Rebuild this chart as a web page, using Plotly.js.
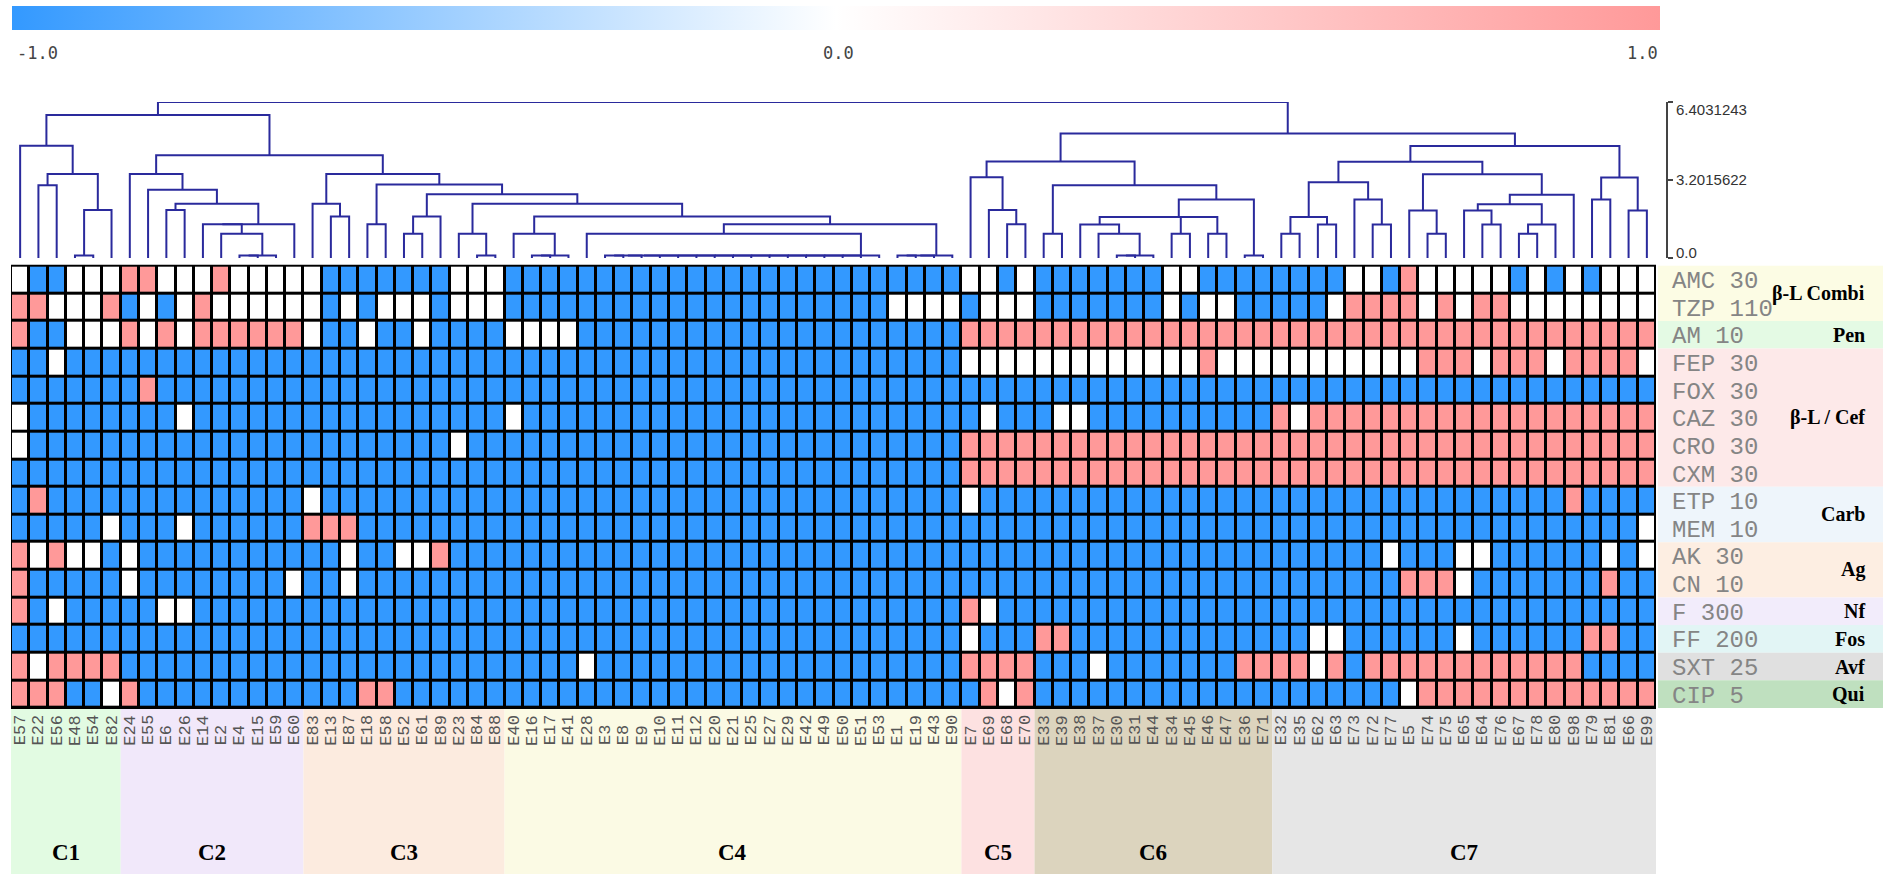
<!DOCTYPE html>
<html>
<head>
<meta charset="utf-8">
<script src="https://cdn.plot.ly/plotly-3.0.1.min.js"></script>
<style>
  html, body { margin: 0; padding: 0; background: #ffffff; }
  #chart { width: 1896px; height: 874px; }
</style>
</head>
<body>
<div id="chart"></div>
<script>
// Isolates in dendrogram (column) order
const isolates = [
  'E57','E22','E56','E48','E54','E82',
  'E24','E55','E6','E26','E14','E2','E4','E15','E59','E60',
  'E83','E13','E87','E18','E58','E52','E61','E89','E23','E84','E88',
  'E40','E16','E17','E41','E28','E3','E8','E9','E10','E11','E12','E20','E21','E25','E27','E29','E42','E49','E50','E51','E53','E1','E19','E43','E90',
  'E7','E69','E68','E70',
  'E33','E39','E38','E37','E30','E31','E44','E34','E45','E46','E47','E36','E71',
  'E32','E35','E62','E63','E73','E72','E77','E5','E74','E75','E65','E64','E76','E67','E78','E80','E98','E79','E81','E66','E99'
];

// Antibiotic discs (rows, top to bottom)
const antibiotics = ['AMC 30','TZP 110','AM 10','FEP 30','FOX 30','CAZ 30','CRO 30','CXM 30',
                     'ETP 10','MEM 10','AK 30','CN 10','F 300','FF 200','SXT 25','CIP 5'];

// Profiles: -1 = susceptible, 0 = intermediate, 1 = resistant (one value per isolate)
const AMC = [
  0,-1,-1,0,0,0,
  1,1,0,0,0,1,0,0,0,0,
  0,-1,-1,-1,-1,-1,-1,-1,0,0,0,
  -1,-1,-1,-1,-1,-1,-1,-1,-1,-1,-1,-1,-1,-1,-1,-1,-1,-1,-1,-1,-1,-1,-1,-1,-1,
  0,0,-1,0,
  -1,-1,-1,-1,-1,-1,-1,0,0,-1,-1,-1,-1,
  -1,-1,-1,-1,0,0,-1,1,0,0,0,0,0,-1,0,-1,0,-1,0,0,0
];
const TZP = [
  1,1,0,0,0,1,
  -1,0,-1,0,1,0,0,0,0,0,
  0,-1,0,-1,0,0,0,-1,0,0,0,
  -1,-1,-1,-1,-1,-1,-1,-1,-1,-1,-1,-1,-1,-1,-1,-1,-1,-1,-1,-1,-1,0,0,0,0,
  -1,0,0,0,
  -1,-1,-1,-1,-1,-1,-1,0,-1,0,0,-1,-1,
  -1,-1,-1,0,1,1,1,1,0,1,0,1,1,0,0,0,0,0,0,0,0
];
const AM = [
  1,-1,-1,0,0,0,
  1,0,1,0,1,1,1,1,1,1,
  0,-1,-1,0,-1,-1,0,-1,-1,-1,-1,
  0,0,0,0,-1,-1,-1,-1,-1,-1,-1,-1,-1,-1,-1,-1,-1,-1,-1,-1,-1,-1,-1,-1,-1,
  1,1,1,1,
  1,1,1,1,1,1,1,1,1,1,1,1,1,
  1,1,1,1,1,1,1,1,1,1,1,1,1,1,1,1,1,1,1,1,1
];
const FEP = [
  -1,-1,0,-1,-1,-1,
  -1,-1,-1,-1,-1,-1,-1,-1,-1,-1,
  -1,-1,-1,-1,-1,-1,-1,-1,-1,-1,-1,
  -1,-1,-1,-1,-1,-1,-1,-1,-1,-1,-1,-1,-1,-1,-1,-1,-1,-1,-1,-1,-1,-1,-1,-1,-1,
  0,0,0,0,
  0,0,0,0,0,0,0,0,0,1,0,0,0,
  0,0,0,0,0,0,0,0,1,1,1,0,1,1,1,0,1,1,1,1,0
];
const FOX = [
  -1,-1,-1,-1,-1,-1,
  -1,1,-1,-1,-1,-1,-1,-1,-1,-1,
  -1,-1,-1,-1,-1,-1,-1,-1,-1,-1,-1,
  -1,-1,-1,-1,-1,-1,-1,-1,-1,-1,-1,-1,-1,-1,-1,-1,-1,-1,-1,-1,-1,-1,-1,-1,-1,
  -1,-1,-1,-1,
  -1,-1,-1,-1,-1,-1,-1,-1,-1,-1,-1,-1,-1,
  -1,-1,-1,-1,-1,-1,-1,-1,-1,-1,-1,-1,-1,-1,-1,-1,-1,-1,-1,-1,-1
];
const CAZ = [
  0,-1,-1,-1,-1,-1,
  -1,-1,-1,0,-1,-1,-1,-1,-1,-1,
  -1,-1,-1,-1,-1,-1,-1,-1,-1,-1,-1,
  0,-1,-1,-1,-1,-1,-1,-1,-1,-1,-1,-1,-1,-1,-1,-1,-1,-1,-1,-1,-1,-1,-1,-1,-1,
  -1,0,-1,-1,
  -1,0,0,-1,-1,-1,-1,-1,-1,-1,-1,-1,-1,
  1,0,1,1,1,1,1,1,1,1,1,1,1,1,1,1,1,1,1,1,1
];
const CRO = [
  0,-1,-1,-1,-1,-1,
  -1,-1,-1,-1,-1,-1,-1,-1,-1,-1,
  -1,-1,-1,-1,-1,-1,-1,-1,0,-1,-1,
  -1,-1,-1,-1,-1,-1,-1,-1,-1,-1,-1,-1,-1,-1,-1,-1,-1,-1,-1,-1,-1,-1,-1,-1,-1,
  1,1,1,1,
  1,1,1,1,1,1,1,1,1,1,1,1,1,
  1,1,1,1,1,1,1,1,1,1,1,1,1,1,1,1,1,1,1,1,1
];
const CXM = [
  -1,-1,-1,-1,-1,-1,
  -1,-1,-1,-1,-1,-1,-1,-1,-1,-1,
  -1,-1,-1,-1,-1,-1,-1,-1,-1,-1,-1,
  -1,-1,-1,-1,-1,-1,-1,-1,-1,-1,-1,-1,-1,-1,-1,-1,-1,-1,-1,-1,-1,-1,-1,-1,-1,
  1,1,1,1,
  1,1,1,1,1,1,1,1,1,1,1,1,1,
  1,1,1,1,1,1,1,1,1,1,1,1,1,1,1,1,1,1,1,1,1
];
const ETP = [
  -1,1,-1,-1,-1,-1,
  -1,-1,-1,-1,-1,-1,-1,-1,-1,-1,
  0,-1,-1,-1,-1,-1,-1,-1,-1,-1,-1,
  -1,-1,-1,-1,-1,-1,-1,-1,-1,-1,-1,-1,-1,-1,-1,-1,-1,-1,-1,-1,-1,-1,-1,-1,-1,
  0,-1,-1,-1,
  -1,-1,-1,-1,-1,-1,-1,-1,-1,-1,-1,-1,-1,
  -1,-1,-1,-1,-1,-1,-1,-1,-1,-1,-1,-1,-1,-1,-1,-1,1,-1,-1,-1,-1
];
const MEM = [
  -1,-1,-1,-1,-1,0,
  -1,-1,-1,0,-1,-1,-1,-1,-1,-1,
  1,1,1,-1,-1,-1,-1,-1,-1,-1,-1,
  -1,-1,-1,-1,-1,-1,-1,-1,-1,-1,-1,-1,-1,-1,-1,-1,-1,-1,-1,-1,-1,-1,-1,-1,-1,
  -1,-1,-1,-1,
  -1,-1,-1,-1,-1,-1,-1,-1,-1,-1,-1,-1,-1,
  -1,-1,-1,-1,-1,-1,-1,-1,-1,-1,-1,-1,-1,-1,-1,-1,-1,-1,-1,-1,0
];
const AK = [
  1,0,1,0,0,-1,
  0,-1,-1,-1,-1,-1,-1,-1,-1,-1,
  -1,-1,0,-1,-1,0,0,1,-1,-1,-1,
  -1,-1,-1,-1,-1,-1,-1,-1,-1,-1,-1,-1,-1,-1,-1,-1,-1,-1,-1,-1,-1,-1,-1,-1,-1,
  -1,-1,-1,-1,
  -1,-1,-1,-1,-1,-1,-1,-1,-1,-1,-1,-1,-1,
  -1,-1,-1,-1,-1,-1,0,-1,-1,-1,0,0,-1,-1,-1,-1,-1,-1,0,-1,0
];
const CN = [
  1,-1,-1,-1,-1,-1,
  0,-1,-1,-1,-1,-1,-1,-1,-1,0,
  -1,-1,0,-1,-1,-1,-1,-1,-1,-1,-1,
  -1,-1,-1,-1,-1,-1,-1,-1,-1,-1,-1,-1,-1,-1,-1,-1,-1,-1,-1,-1,-1,-1,-1,-1,-1,
  -1,-1,-1,-1,
  -1,-1,-1,-1,-1,-1,-1,-1,-1,-1,-1,-1,-1,
  -1,-1,-1,-1,-1,-1,-1,1,1,1,0,-1,-1,-1,-1,-1,-1,-1,1,-1,-1
];
const F = [
  1,-1,0,-1,-1,-1,
  -1,-1,0,0,-1,-1,-1,-1,-1,-1,
  -1,-1,-1,-1,-1,-1,-1,-1,-1,-1,-1,
  -1,-1,-1,-1,-1,-1,-1,-1,-1,-1,-1,-1,-1,-1,-1,-1,-1,-1,-1,-1,-1,-1,-1,-1,-1,
  1,0,-1,-1,
  -1,-1,-1,-1,-1,-1,-1,-1,-1,-1,-1,-1,-1,
  -1,-1,-1,-1,-1,-1,-1,-1,-1,-1,-1,-1,-1,-1,-1,-1,-1,-1,-1,-1,-1
];
const FF = [
  -1,-1,-1,-1,-1,-1,
  -1,-1,-1,-1,-1,-1,-1,-1,-1,-1,
  -1,-1,-1,-1,-1,-1,-1,-1,-1,-1,-1,
  -1,-1,-1,-1,-1,-1,-1,-1,-1,-1,-1,-1,-1,-1,-1,-1,-1,-1,-1,-1,-1,-1,-1,-1,-1,
  0,-1,-1,-1,
  1,1,-1,-1,-1,-1,-1,-1,-1,-1,-1,-1,-1,
  -1,-1,0,0,-1,-1,-1,-1,-1,-1,0,-1,-1,-1,-1,-1,-1,1,1,-1,-1
];
const SXT = [
  1,0,1,1,1,1,
  -1,-1,-1,-1,-1,-1,-1,-1,-1,-1,
  -1,-1,-1,-1,-1,-1,-1,-1,-1,-1,-1,
  -1,-1,-1,-1,0,-1,-1,-1,-1,-1,-1,-1,-1,-1,-1,-1,-1,-1,-1,-1,-1,-1,-1,-1,-1,
  1,1,1,1,
  -1,-1,-1,0,-1,-1,-1,-1,-1,-1,-1,1,1,
  1,1,0,1,-1,1,1,1,1,1,1,1,1,1,1,1,1,-1,-1,-1,-1
];
const CIP = [
  1,1,1,-1,-1,0,
  1,-1,-1,-1,-1,-1,-1,-1,-1,-1,
  -1,-1,-1,1,1,-1,-1,-1,-1,-1,-1,
  -1,-1,-1,-1,-1,-1,-1,-1,-1,-1,-1,-1,-1,-1,-1,-1,-1,-1,-1,-1,-1,-1,-1,-1,-1,
  -1,1,0,1,
  -1,-1,-1,-1,-1,-1,-1,-1,-1,-1,-1,-1,-1,
  -1,-1,-1,-1,-1,-1,-1,0,1,1,1,1,1,1,1,1,1,1,1,1,1
];
const profiles = [AMC, TZP, AM, FEP, FOX, CAZ, CRO, CXM, ETP, MEM, AK, CN, F, FF, SXT, CIP];
profiles.forEach((row, i) => {
  if (row.length !== isolates.length) throw new Error(antibiotics[i] + ' has ' + row.length + ' values');
});

// Antibiotic classes (row spans)
const classNames  = ['β-L Combi', 'Pen', 'β-L / Cef', 'Carb', 'Ag', 'Nf', 'Fos', 'Avf', 'Qui'];
const classFirst  = [0, 2, 3, 8, 10, 12, 13, 14, 15];
const classLast   = [1, 2, 7, 9, 11, 12, 13, 14, 15];
const classColors = ['#fcfce4', '#e4fae4', '#fde9e9', '#eef5fb', '#fdeee2', '#f2ecfb', '#e2f5f5', '#e0e0e0', '#bfe0bf'];

// Isolate clusters (column spans)
const clusterNames  = ['C1', 'C2', 'C3', 'C4', 'C5', 'C6', 'C7'];
const clusterSizes  = [6, 10, 11, 25, 4, 13, 21];
const clusterColors = ['#e2fbe2', '#f1e8fa', '#fcebdf', '#fbfae4', '#fde1e1', '#dcd4be', '#e6e6e6'];

// Hierarchical clustering tree; the number after each ")" is the merge height.
// A node with more than two members is a run of successive merges at that height.
const treeC1  = '(E57,((E22,E56)2.99,((E48,E54)0.1,E82)1.97)3.45)4.61';
const treeC2  = '(E24,(E55,((E6,E26)1.97,(E14,(E2,(E4,E15,E59)0.1)1.0,E60)1.39)2.23)2.80)3.45';
const treeC34 = '((E83,(E13,E87)1.70)2.23,((E18,E58)1.39,(((E52,E61)1.0,E89)1.70,((E23,(E84,E88)0.1)1.0,' +
                '((E40,(E16,E17,E41)0.1)1.0,((E28,(E3,E8,E9,E10,E11,E12,E20,E21,E25,E27,E29,E42,E49,E50,E51,E53)0.1)1.0,' +
                '(E1,E19,E43,E90)0.1)1.39)1.70)2.23)2.62)3.02)3.45';
const treeC5  = '(E7,(E69,(E68,E70)1.39)1.97)3.31';
const treeC6  = '((E33,E39)1.0,(((E38,(E37,(E30,E31,E44)0.1)1.0)1.37,(E34,E45)1.0,(E46,E47)1.0)1.68,(E36,E71)0.1)2.40)2.99';
const treeC7  = '(((((E32,E35)1.0,(E62,E63)1.37)1.68,(E73,(E72,E77)1.37)2.40)3.11,((E5,(E74,E75)1.0)1.95,' +
                '(((E65,(E64,E76)1.37)1.95,((E67,E78)1.0,E80)1.37)2.21,E98)2.60)3.44)3.95,((E79,E81)2.40,(E66,E99)1.95)3.30)4.60';
const tree = '((' + treeC1 + ',(' + treeC2 + ',' + treeC34 + ')4.22)5.87,((' + treeC5 + ',' + treeC6 + ')3.96,' + treeC7 + ')5.11)6.4031243';
const treeMax = 6.4031243;
const treeTickVals = [0, 3.2015622, 6.4031243];
const treeTickText = ['0.0', '3.2015622', '6.4031243'];

function parseTree(s) {
  let i = 0;
  function node() {
    if (s[i] === '(') {
      i++;
      const kids = [node()];
      while (s[i] === ',') { i++; kids.push(node()); }
      if (s[i] !== ')') throw new Error('tree syntax at ' + i);
      i++;
      const j = i;
      while (i < s.length && /[0-9.]/.test(s[i])) i++;
      return { kids: kids, h: parseFloat(s.slice(j, i)) };
    }
    const j = i;
    while (i < s.length && /[A-Za-z0-9]/.test(s[i])) i++;
    return { name: s.slice(j, i) };
  }
  const root = node();
  if (i !== s.length) throw new Error('tree trailing text');
  return root;
}

// Walk the tree, emitting the elbow segments of each merge
function layoutTree(n, xs, ys) {
  if (n.name) {
    const idx = isolates.indexOf(n.name);
    if (idx < 0) throw new Error('unknown leaf ' + n.name);
    return { x: idx, h: 0 };
  }
  const kids = n.kids.map(k => layoutTree(k, xs, ys));
  let cur = kids[0];
  for (let k = 1; k < kids.length; k++) {
    const c = kids[k];
    xs.push(cur.x, cur.x, c.x, c.x, null);
    ys.push(cur.h, n.h, n.h, c.h, null);
    cur = { x: (cur.x + c.x) / 2, h: n.h };
  }
  return cur;
}
const dx = [], dy = [];
layoutTree(parseTree(tree), dx, dy);

// Page geometry (pixels)
const W = 1896, H = 874;
const px = v => v / W;
const py = v => 1 - v / H;

const colIndex = isolates.map((_, i) => i);

const heat = {
  type: 'heatmap',
  x: colIndex,
  y: antibiotics,
  z: profiles,
  zmin: -1, zmax: 1,
  colorscale: [[0, '#3399ff'], [0.5, '#ffffff'], [1, '#ff9999']],
  xgap: 3, ygap: 3,
  hoverinfo: 'skip',
  colorbar: {
    orientation: 'h',
    x: px(836), xanchor: 'center',
    y: py(6), yanchor: 'top',
    len: 1648 / W, lenmode: 'fraction',
    thickness: 24, thicknessmode: 'pixels',
    outlinewidth: 0, xpad: 0, ypad: 0,
    showticklabels: false, ticks: ''
  }
};

const dendro = {
  type: 'scatter',
  mode: 'lines',
  x: dx, y: dy,
  xaxis: 'x', yaxis: 'y2',
  line: { color: '#2a2a9c', width: 2 },
  hoverinfo: 'skip',
  cliponaxis: false,
  showlegend: false
};

const shapes = [];
const annotations = [];

// black grid behind the cells
shapes.push({
  type: 'rect', xref: 'x', yref: 'y', layer: 'below',
  x0: -0.5, x1: isolates.length - 0.5, y0: -0.5, y1: antibiotics.length - 0.5,
  fillcolor: '#000000', line: { color: '#000000', width: 2 }
});

// class bands and labels on the right
classNames.forEach((name, k) => {
  shapes.push({
    type: 'rect', xref: 'paper', yref: 'y', layer: 'below',
    x0: px(1658), x1: px(1883), y0: classFirst[k] - 0.5, y1: classLast[k] + 0.5,
    fillcolor: classColors[k], line: { width: 0 }
  });
  annotations.push({
    text: '<b>' + name + '</b>', xref: 'paper', yref: 'y',
    x: px(1867), y: (classFirst[k] + classLast[k]) / 2,
    xanchor: 'right', yanchor: 'middle', showarrow: false,
    font: { family: 'Liberation Serif, DejaVu Serif, serif', size: 20, color: '#000000' }
  });
});

// antibiotic labels
antibiotics.forEach(name => {
  annotations.push({
    text: name, xref: 'paper', yref: 'y', x: px(1670), y: name,
    xanchor: 'left', yanchor: 'middle', yshift: -2, showarrow: false,
    font: { family: 'Liberation Mono, DejaVu Sans Mono, monospace', size: 24, color: '#858585' }
  });
});

// cluster bands and labels at the bottom
let start = 0;
clusterNames.forEach((name, k) => {
  const end = start + clusterSizes[k] - 1;
  shapes.push({
    type: 'rect', xref: 'x', yref: 'paper', layer: 'below',
    x0: start - 0.5, x1: end + 0.5, y0: 0, y1: py(709),
    fillcolor: clusterColors[k], line: { width: 0 }
  });
  annotations.push({
    text: '<b>' + name + '</b>', xref: 'x', yref: 'paper',
    x: (start + end) / 2, y: py(852), xanchor: 'center', yanchor: 'middle', showarrow: false,
    font: { family: 'Liberation Serif, DejaVu Serif, serif', size: 23, color: '#000000' }
  });
  start = end + 1;
});

// isolate labels, read bottom-to-top and aligned at their first character
const labelLen = Math.max(...isolates.map(s => s.length));
isolates.forEach((name, i) => {
  annotations.push({
    text: name + '\u00a0'.repeat(labelLen - name.length), xref: 'x', yref: 'paper', x: i, y: py(730),
    xanchor: 'center', yanchor: 'middle', textangle: -90, showarrow: false,
    font: { family: 'Liberation Mono, DejaVu Sans Mono, monospace', size: 17, color: '#555555' }
  });
});

// colour scale labels
const scaleTicks = [-1, 0, 1];
const scaleTickX = [px(15), px(838), px(1660)];
const scaleAnchor = ['left', 'center', 'right'];
scaleTicks.forEach((v, k) => {
  annotations.push({
    text: v.toFixed(1), xref: 'paper', yref: 'paper', x: scaleTickX[k], y: py(53),
    xanchor: scaleAnchor[k], yanchor: 'middle', showarrow: false,
    font: { family: 'DejaVu Sans Mono, monospace', size: 17, color: '#444444' }
  });
});

// dendrogram height labels, kept inside the bracket ends
const treeLabelShift = [5, 0, -8];
treeTickVals.forEach((v, k) => {
  annotations.push({
    text: treeTickText[k], xref: 'paper', yref: 'y2', x: px(1674), y: v,
    xanchor: 'left', yanchor: 'middle', yshift: treeLabelShift[k], showarrow: false,
    font: { family: 'Liberation Sans, Arial, sans-serif', size: 15, color: '#333333' }
  });
});

const layout = {
  width: W, height: H,
  margin: { l: 0, r: 0, t: 0, b: 0, pad: 0 },
  paper_bgcolor: '#ffffff',
  plot_bgcolor: '#ffffff',
  showlegend: false,
  xaxis: {
    domain: [px(11), px(1656)], range: [-0.5, isolates.length - 0.5],
    showticklabels: false, showgrid: false, zeroline: false, ticks: '', fixedrange: true
  },
  yaxis: {
    domain: [py(709), py(262)], type: 'category', autorange: 'reversed',
    showticklabels: false, showgrid: false, zeroline: false, ticks: '', fixedrange: true
  },
  yaxis2: {
    domain: [py(258), py(102)], range: [0, treeMax],
    anchor: 'free', position: px(1666), side: 'right',
    showline: true, linecolor: '#444444', linewidth: 1.5,
    ticks: 'outside', ticklen: 5, tickcolor: '#444444', tickwidth: 1.5,
    tickvals: treeTickVals, showticklabels: false,
    showgrid: false, zeroline: false, fixedrange: true
  },
  shapes: shapes,
  annotations: annotations
};

Plotly.newPlot('chart', [heat, dendro], layout, { displayModeBar: false, staticPlot: true });
</script>
</body>
</html>
